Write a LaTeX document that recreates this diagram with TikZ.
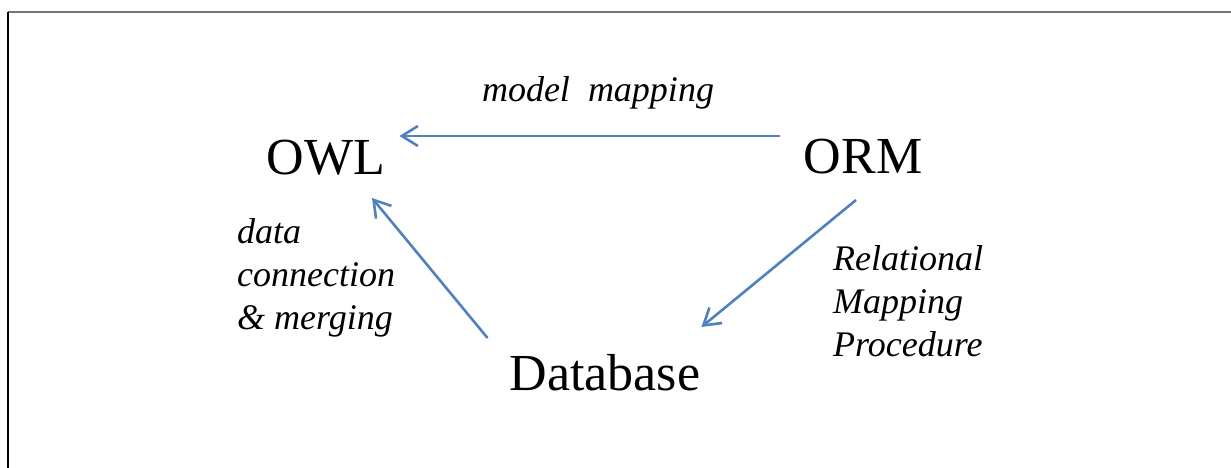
\documentclass[tikz,border=0pt]{standalone}
\usepackage{fontspec}
\setmainfont{Liberation Serif}
\usetikzlibrary{arrows.meta,calc}
\definecolor{linkblue}{RGB}{79,129,189}
\definecolor{framegray}{RGB}{115,115,115}
\def \picwidth {1231}
\def \picheight {468}
\tikzstyle{concept}=[anchor=base, inner sep=0pt, font=\fontsize{52}{62}\selectfont]
\tikzstyle{annot}=[inner sep=0pt, align=left, font=\fontsize{36}{43}\selectfont\itshape]
\tikzstyle{link}=[draw=linkblue, line width=2.6pt, -{Straight Barb[length=16pt,width=20pt]}]

\begin{document}
\begin{tikzpicture}[x=1pt, y=-1pt]

\useasboundingbox (0,0) rectangle (\picwidth,\picheight);

% frame
\draw[framegray, line width=1.5pt] (8,12) -- (\picwidth,12);
\draw[black, line width=1.5pt] (8,12) -- (8,\picheight);

\node[concept] (OWL) at (326,174) {OWL};
\node[concept] (ORM) at (863,173) {ORM};
\node[concept] (DB) at (605,390) {Database};

\draw[link] ($(ORM.base west)+(-24,-37)$) -- ($(OWL.base east)+(14,-38)$);
\draw[link] ($(DB.base west)+(-22,-52)$) -- ($(OWL.base)+(46,24)$);
\draw[link] ($(ORM.base)+(-7,27)$) -- ($(DB.base east)+(1,-63)$);

% multi-line labels: base is the last line
\node[annot, anchor=base] (mm) at (598,102) {model\ \ mapping};
\node[annot, anchor=base west] (dc) at (237,329) {data\\connection\\\& merging};
\node[annot, anchor=base west] (rmp) at (833,356) {Relational\\Mapping\\Procedure};

\end{tikzpicture}
\end{document}
